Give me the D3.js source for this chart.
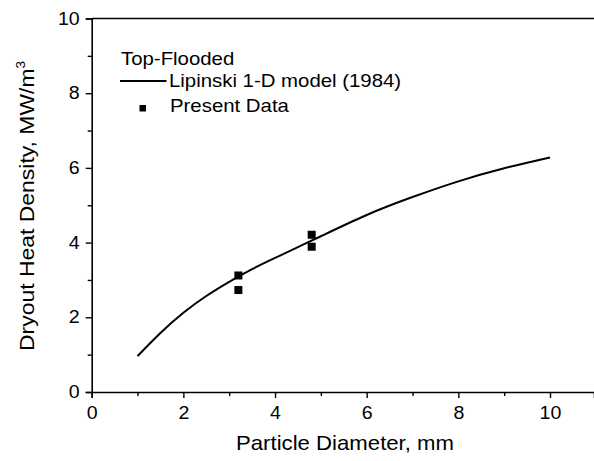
<!DOCTYPE html>
<html>
<head>
<meta charset="utf-8">
<script src="https://cdn.jsdelivr.net/npm/d3@7"></script>
<style>
  body { margin: 0; background: #fff; }
  text { font-family: "Liberation Sans", Arial, sans-serif; fill: #000; }
</style>
</head>
<body>
<div id="chart"></div>
<script>
// Lipinski 1-D model curve
var modelX = [1, 1.5, 2, 2.5, 3, 3.5, 4, 4.5, 5, 6, 7, 8, 9, 10];
var modelY = [0.96, 1.58, 2.12, 2.57, 2.95, 3.29, 3.59, 3.88, 4.17, 4.74, 5.22, 5.64, 5.99, 6.28];

// present data points
var dataX = [3.2, 3.2, 4.8, 4.8];
var dataY = [3.12, 2.73, 4.21, 3.89];

var xTicks = [0, 2, 4, 6, 8, 10];
var yTicks = [0, 2, 4, 6, 8, 10];

var width = 594, height = 461;
var margin = { top: 18.5, right: 0, bottom: 69, left: 91.7 };
var stretch = 1.12; // text in the original is a bit wider than Arial

var svg = d3.select("#chart").append("svg")
  .attr("width", width)
  .attr("height", height);

var x = d3.scaleLinear().domain([0, 10]).range([margin.left, 550]);
var y = d3.scaleLinear().domain([0, 10]).range([height - margin.bottom, margin.top]);
var xEnd = x.invert(width);

// stretched text helper
function label(parent, px, py, str, size, anchor, rot) {
  var g = parent.append("g")
    .attr("transform", "translate(" + px + "," + py + ")" + (rot ? " rotate(" + rot + ")" : "") + " scale(" + stretch + ",1)");
  return g.append("text")
    .attr("text-anchor", anchor || "start")
    .style("font-size", size + "px")
    .text(str);
}

// x axis
var xAxis = svg.append("g")
  .attr("transform", "translate(0," + y(0) + ")")
  .call(d3.axisBottom(x.copy().domain([0, xEnd]).range([margin.left, width]))
    .tickValues(xTicks).tickSize(6).tickPadding(4).tickFormat(d3.format("d")));
svg.append("g")
  .attr("transform", "translate(0," + y(0) + ")")
  .call(d3.axisBottom(x).tickValues([1, 3, 5, 7, 9]).tickSize(4).tickFormat(""))
  .select(".domain").remove();

// y axis
var yAxis = svg.append("g")
  .attr("transform", "translate(" + x(0) + ",0)")
  .call(d3.axisLeft(y).tickValues(yTicks).tickSize(6).tickPadding(4).tickFormat(d3.format("d")));
svg.append("g")
  .attr("transform", "translate(" + x(0) + ",0)")
  .call(d3.axisLeft(y).tickValues([1, 3, 5, 7, 9]).tickSize(4).tickFormat(""))
  .select(".domain").remove();

svg.selectAll(".domain").attr("stroke-width", 1.6);
svg.selectAll(".tick line").attr("stroke-width", 1.4);
svg.selectAll(".tick text").style("font-size", "17.5px").style("font-family", "Liberation Sans, Arial, sans-serif");
xAxis.selectAll(".tick text").attr("dy", "0.95em").attr("transform", "scale(" + stretch + ",1)");
yAxis.selectAll(".tick text").attr("x", -12 / stretch).attr("transform", "scale(" + stretch + ",1)");

// top frame line
svg.append("line")
  .attr("x1", x(0)).attr("x2", width)
  .attr("y1", y(10)).attr("y2", y(10))
  .attr("stroke", "#000").attr("stroke-width", 1.6);

// model curve
var line = d3.line()
  .x(function (d, i) { return x(modelX[i]); })
  .y(function (d, i) { return y(modelY[i]); })
  .curve(d3.curveNatural);

svg.append("path")
  .datum(modelY)
  .attr("d", line)
  .attr("fill", "none")
  .attr("stroke", "#000")
  .attr("stroke-width", 2);

// squares
var sq = 8;
svg.selectAll(".pt")
  .data(dataX)
  .enter().append("rect")
  .attr("class", "pt")
  .attr("x", function (d) { return x(d) - sq / 2; })
  .attr("y", function (d, i) { return y(dataY[i]) - sq / 2; })
  .attr("width", sq).attr("height", sq)
  .attr("fill", "#000");

// legend
label(svg, 121, 65, "Top-Flooded", 18.2);
svg.append("line").attr("x1", 120).attr("x2", 166.5).attr("y1", 81).attr("y2", 81)
  .attr("stroke", "#000").attr("stroke-width", 2);
label(svg, 169, 87, "Lipinski 1-D model (1984)", 18.2);
svg.append("rect").attr("x", 139.5).attr("y", 105).attr("width", 6.5).attr("height", 6.5).attr("fill", "#000");
label(svg, 170, 112, "Present Data", 18.2);

// axis titles
label(svg, 345, 450, "Particle Diameter, mm", 19.8, "middle");

var yt = label(svg, 34, 206, "", 20.5, "middle", -90);
yt.append("tspan").text("Dryout Heat Density, MW/m");
yt.append("tspan").attr("dy", -9).style("font-size", "12px").text("3");
</script>
</body>
</html>
